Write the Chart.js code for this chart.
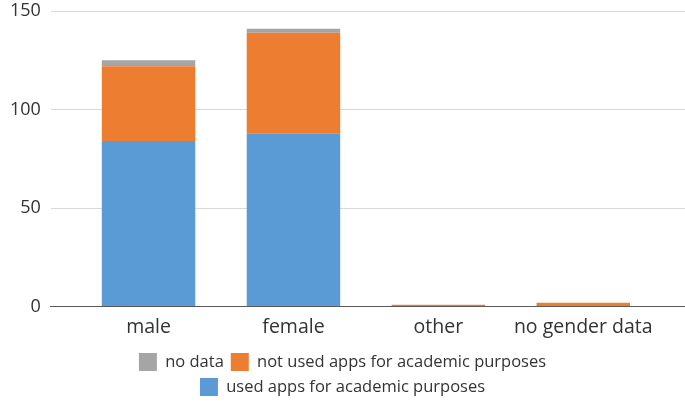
<!DOCTYPE html>
<html>
<head>
<meta charset="utf-8">
<script src="https://cdn.jsdelivr.net/npm/chart.js@4"></script>
<style>
  html, body { margin: 0; padding: 0; background: #fff; }
  #wrap { width: 685px; height: 404px; }
</style>
</head>
<body>
<div id="wrap"><canvas id="chart"></canvas></div>
<script>
const categories = ['male', 'female', 'other', 'no gender data'];
const usedApps = [84, 88, 0, 0];
const notUsedApps = [38, 51, 1, 2];
const noData = [3, 2, 0, 0];
const yTicks = [0, 50, 100, 150];

const FONT = '"Open Sans", "Noto Sans", sans-serif';
const LEGEND_ROW_WIDTH = 480;

function points(values) {
    return values.map((v, i) => ({ x: i, y: v }));
}

// legend rows wrap narrower than the canvas, like the original
const narrowLegend = {
    id: 'narrowLegend',
    beforeLayout(chart) {
        const lg = chart.legend;
        if (lg && !lg._narrowed) {
            const orig = lg.update.bind(lg);
            lg.update = (mw, mh, margins) => orig(Math.min(mw, LEGEND_ROW_WIDTH), mh, margins);
            lg._narrowed = true;
        }
    }
};

new Chart(document.getElementById('chart'), {
    type: 'bar',
    data: {
        datasets: [{
            label: 'used apps for academic purposes',
            data: points(usedApps),
            backgroundColor: '#5b9bd5'
        }, {
            label: 'not used apps for academic purposes',
            data: points(notUsedApps),
            backgroundColor: '#ed7d31'
        }, {
            label: 'no data',
            data: points(noData),
            backgroundColor: '#a5a5a5'
        }]
    },
    plugins: [narrowLegend],
    options: {
        responsive: true,
        maintainAspectRatio: false,
        animation: false,
        barPercentage: 0.645,
        categoryPercentage: 1,
        layout: { padding: { left: 0, right: 0, top: 11, bottom: -2 } },
        plugins: {
            tooltip: { enabled: false },
            legend: {
                position: 'bottom',
                reverse: true,
                labels: {
                    boxWidth: 18,
                    boxHeight: 18,
                    padding: 7,
                    color: '#333',
                    font: { family: FONT, size: 16.5 }
                }
            }
        },
        scales: {
            x: {
                type: 'linear',
                stacked: true,
                offset: false,
                min: -0.674,
                max: 3.702,
                afterBuildTicks: (scale) => {
                    scale.ticks = categories.map((_, i) => ({ value: i }));
                },
                afterFit: (scale) => {
                    scale.height += 6;
                },
                ticks: {
                    color: '#333',
                    font: { family: FONT, size: 19.5 },
                    padding: 1,
                    maxRotation: 0,
                    callback: (value) => categories[value] ?? ''
                },
                grid: { display: false },
                border: { display: true, color: '#595959', width: 1 }
            },
            y: {
                stacked: true,
                min: 0,
                max: 150,
                afterBuildTicks: (scale) => {
                    scale.ticks = yTicks.map(v => ({ value: v }));
                },
                ticks: {
                    color: '#333',
                    font: { family: FONT, size: 18, lineHeight: 0.1 },
                    padding: 10
                },
                grid: {
                    color: '#d9d9d9',
                    drawTicks: false
                },
                border: { display: false }
            }
        }
    }
});
</script>
</body>
</html>
